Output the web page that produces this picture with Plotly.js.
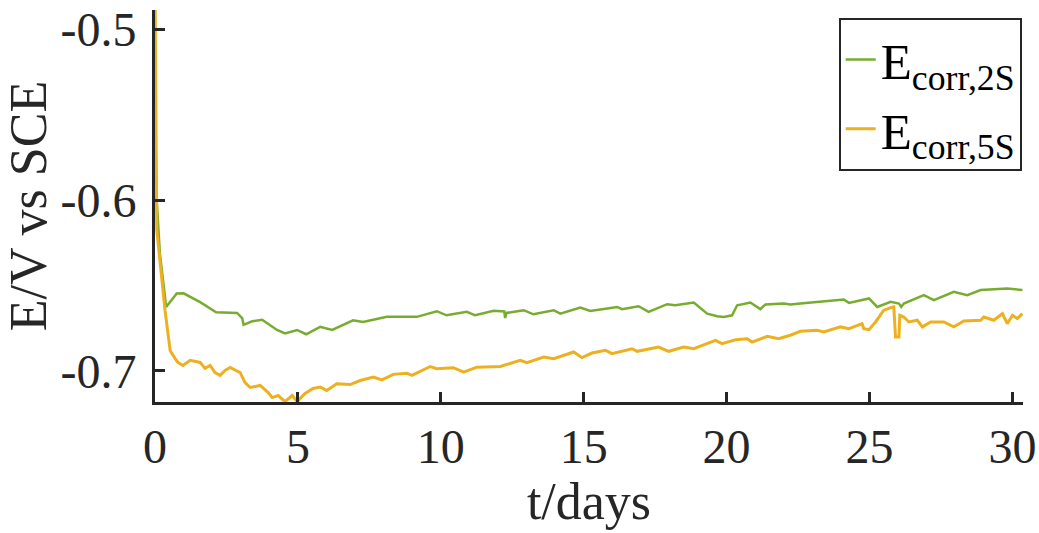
<!DOCTYPE html>
<html>
<head>
<meta charset="utf-8">
<script src="https://cdn.plot.ly/plotly-3.0.1.min.js"></script>
<style>html,body{margin:0;padding:0;background:#fff;}#chart{width:1039px;height:533px;}</style>
</head>
<body>
<div id="chart"></div>
<script>
// E_corr,2S (green)
const days2S = [0, 0.06, 0.17, 0.39, 0.76, 1.0, 1.58, 2.14, 2.87, 3.05, 3.1, 3.4, 3.75, 4.27, 4.55, 4.97, 5.29, 5.57, 5.78, 6.2, 6.93, 7.28, 8.11, 9.16, 9.86, 10.2, 10.91, 11.2, 11.85, 12.22, 12.25, 12.3, 12.9, 13.24, 13.95, 14.18, 14.88, 15.23, 16.17, 16.34, 16.92, 17.27, 17.92, 18.2, 18.85, 19.32, 19.67, 19.9, 20.19, 20.37, 20.83, 21.18, 21.36, 22.0, 22.23, 22.58, 23.28, 24.1, 24.28, 24.98, 25.27, 25.74, 26.03, 26.11, 26.2, 26.9, 27.25, 27.95, 28.42, 28.89, 29.82, 30.35];
const e2S = [-0.545, -0.6, -0.631, -0.6625, -0.6546, -0.6545, -0.6597, -0.6656, -0.666, -0.669, -0.673, -0.6709, -0.670, -0.676, -0.678, -0.676, -0.6785, -0.676, -0.6742, -0.676, -0.6703, -0.6713, -0.6683, -0.6683, -0.665, -0.6674, -0.6654, -0.6674, -0.6648, -0.6652, -0.669, -0.666, -0.6644, -0.6668, -0.6644, -0.6664, -0.6628, -0.6648, -0.6625, -0.6638, -0.6621, -0.6654, -0.6609, -0.6615, -0.6599, -0.6664, -0.668, -0.6684, -0.6674, -0.6615, -0.6599, -0.6638, -0.661, -0.6605, -0.661, -0.6605, -0.6595, -0.6581, -0.6601, -0.6575, -0.6625, -0.6595, -0.6605, -0.6625, -0.6605, -0.6556, -0.6585, -0.6536, -0.6556, -0.6526, -0.6517, -0.6526];

// E_corr,5S (orange)
const days5S = [0, 0.06, 0.35, 0.47, 0.53, 0.7, 0.8, 0.98, 1.23, 1.58, 1.75, 1.93, 2.1, 2.28, 2.45, 2.63, 2.98, 3.15, 3.33, 3.68, 3.96, 4.1, 4.31, 4.55, 4.8, 4.97, 5.25, 5.53, 5.78, 6.01, 6.36, 6.83, 7.18, 7.64, 7.94, 8.34, 8.81, 8.99, 9.63, 9.86, 10.44, 10.8, 11.26, 12.08, 12.78, 13.01, 13.6, 13.95, 14.18, 14.65, 14.94, 15.29, 15.76, 15.99, 16.69, 16.87, 17.62, 17.97, 18.5, 18.85, 19.61, 19.84, 20.31, 20.72, 20.89, 21.42, 21.82, 22.23, 22.58, 23.17, 23.4, 23.98, 24.28, 24.74, 24.8, 24.98, 25.21, 25.5, 25.74, 25.85, 25.91, 26.03, 26.06, 26.2, 26.38, 26.67, 26.85, 27.14, 27.6, 27.95, 28.3, 28.89, 29.0, 29.35, 29.65, 29.82, 30.0, 30.17, 30.35];
const e5S = [-0.47, -0.617, -0.6644, -0.682, -0.688, -0.6926, -0.695, -0.6968, -0.6938, -0.695, -0.6985, -0.6968, -0.701, -0.7026, -0.6997, -0.698, -0.701, -0.7068, -0.7097, -0.7085, -0.7127, -0.7156, -0.7144, -0.718, -0.7144, -0.718, -0.7132, -0.7103, -0.7095, -0.7115, -0.7075, -0.708, -0.7056, -0.7036, -0.7052, -0.702, -0.7013, -0.7026, -0.6974, -0.6987, -0.6981, -0.7007, -0.6978, -0.6974, -0.6938, -0.6952, -0.6919, -0.6928, -0.6915, -0.6889, -0.6922, -0.6895, -0.6879, -0.6899, -0.687, -0.6885, -0.686, -0.6885, -0.686, -0.687, -0.6821, -0.684, -0.6817, -0.6811, -0.6831, -0.6797, -0.6811, -0.6791, -0.6768, -0.6762, -0.6772, -0.6742, -0.6752, -0.6723, -0.6752, -0.6758, -0.6713, -0.6644, -0.663, -0.6625, -0.6801, -0.6801, -0.6674, -0.6684, -0.6713, -0.6703, -0.6742, -0.6713, -0.6713, -0.6742, -0.6707, -0.6703, -0.6684, -0.6703, -0.6664, -0.6723, -0.6674, -0.6693, -0.6664];

const seriesNames = ['E<sub>corr,2S</sub>', 'E<sub>corr,5S</sub>'];
const xTicks = [0, 5, 10, 15, 20, 25, 30];
const yTicks = [-0.7, -0.6, -0.5];

const font = "'Liberation Serif', 'Times New Roman', serif";
const axisColor = '#262626';

const traces = [
  {x: days2S, y: e2S, name: seriesNames[0], type: 'scatter', mode: 'lines',
   line: {color: '#77AC30', width: 2.5}},
  {x: days5S, y: e5S, name: seriesNames[1], type: 'scatter', mode: 'lines',
   line: {color: '#EDB120', width: 3}}
];

const layout = {
  width: 1039, height: 533,
  margin: {l: 155, r: 16, t: 10, b: 131},
  paper_bgcolor: '#fff', plot_bgcolor: '#fff',
  font: {family: font, color: axisColor, size: 48},
  showlegend: true,
  legend: {
    x: 0.9985, y: 0.98, xanchor: 'right', yanchor: 'top',
    bordercolor: axisColor, borderwidth: 2, bgcolor: '#fff',
    font: {family: font, size: 51, color: '#000'},
    itemwidth: 30, tracegroupgap: 0
  },
  xaxis: {
    range: [0, 30.37], tickvals: xTicks, ticktext: xTicks.map(String),
    showgrid: false, zeroline: false, showline: true, linecolor: axisColor, linewidth: 3,
    ticks: 'inside', ticklen: 10, tickwidth: 3, tickcolor: axisColor,
    tickfont: {family: font, size: 48, color: axisColor},
    title: {text: 't/days', font: {family: font, size: 52, color: axisColor}, standoff: 8}
  },
  yaxis: {
    range: [-0.7182, -0.4885], tickvals: yTicks, ticktext: yTicks.map(v => v.toFixed(1)),
    showgrid: false, zeroline: false, showline: true, linecolor: axisColor, linewidth: 3,
    ticks: 'inside', ticklen: 10, tickwidth: 3, tickcolor: axisColor,
    tickfont: {family: font, size: 48, color: axisColor},
    ticklabelstandoff: 6,
    title: {text: 'E/V vs SCE', font: {family: font, size: 52, color: axisColor}, standoff: 10}
  }
};

Plotly.newPlot('chart', traces, layout, {displayModeBar: false, staticPlot: true});
</script>
</body>
</html>
